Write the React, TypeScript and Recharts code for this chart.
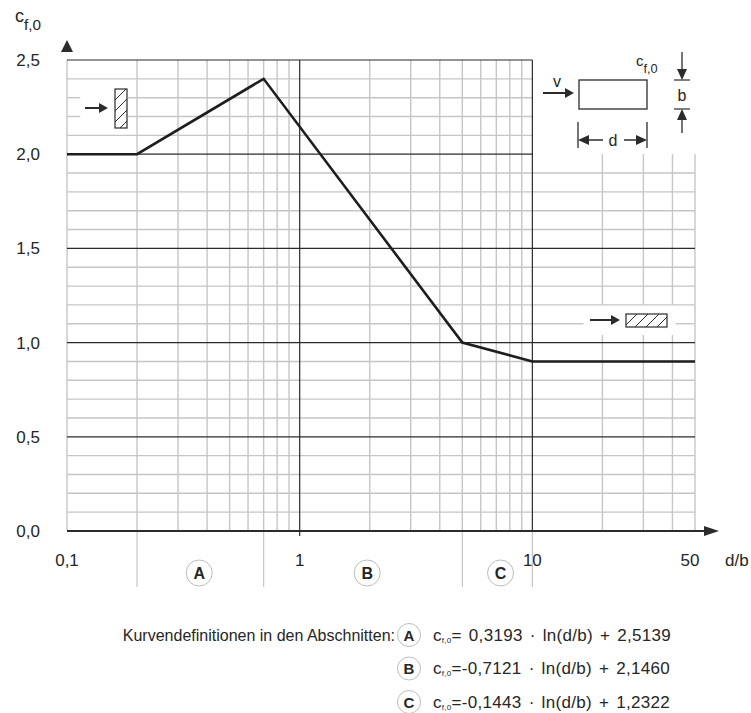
import React from 'react';
import { LineChart, Line, XAxis, YAxis, ReferenceLine } from 'recharts';

// curve breakpoints (d/b, c_f,0)
const curveX = [0.1, 0.2, 0.7, 5, 10, 50];
const curveY = [2.0, 2.0, 2.4, 1.0, 0.9, 0.9];

const xTicks = [0.1, 1, 10, 50];
const xTickLabels = ['0,1', '1', '10', '50'];
const yTicks = [0, 0.5, 1, 1.5, 2, 2.5];
const yTickLabels = ['0,0', '0,5', '1,0', '1,5', '2,0', '2,5'];

const minorX = [0.1, 0.2, 0.3, 0.4, 0.5, 0.6, 0.7, 0.8, 0.9, 2, 3, 4, 5, 6, 7, 8, 9, 20, 30, 40, 50];
const majorX = [1, 10];
const minorY = [0.1, 0.2, 0.3, 0.4, 0.6, 0.7, 0.8, 0.9, 1.1, 1.2, 1.3, 1.4, 1.6, 1.7, 1.8, 1.9, 2.1, 2.2, 2.3, 2.4];
const majorY = [0.5, 1, 1.5, 2, 2.5];

const sectionBounds = [0.2, 0.7, 5, 10];
const sectionNames = ['A', 'B', 'C'];
const sectionCenters = [0.37, 1.95, 7.3];

const formulaCoef = ['= 0,3193', '=-0,7121', '=-0,1443'];
const formulaConst = ['2,5139', '2,1460', '1,2322'];

const data = curveX.map((x, i) => ({ x, y: curveY[i] }));

const W = 751;
const H = 713;
const PLOT = { left: 67, right: 695, top: 60, bottom: 531 };
const X_MIN = 0.1;
const X_MAX = 50;
const Y_MAX = 2.5;

// blank pockets in the grid around the little icons
const LEFT_GAP = [0.114, 0.183];
const RIGHT_GAP_X = [16.6, 41.2];
const RIGHT_GAP_Y = [1.04, 1.2];

const px = (v: number) =>
  PLOT.left + ((Math.log10(v) - Math.log10(X_MIN)) / (Math.log10(X_MAX) - Math.log10(X_MIN))) * (PLOT.right - PLOT.left);
const py = (v: number) => PLOT.bottom - (v / Y_MAX) * (PLOT.bottom - PLOT.top);

const LIGHT = '#c6c6c6';
const DARK = '#2b2b2b';
const TEXT = '#262626';
const FONT = '"Liberation Sans", Arial, sans-serif';

type Seg = { x1: number; x2: number; y1: number; y2: number; light: boolean };

const buildGrid = (): Seg[] => {
  const segs: Seg[] = [];
  minorY.forEach((v) => {
    const right = v > 2 ? 10 : X_MAX;
    if (v === 2.2 || v === 2.3) {
      segs.push({ x1: X_MIN, x2: LEFT_GAP[0], y1: v, y2: v, light: true });
      segs.push({ x1: LEFT_GAP[1], x2: right, y1: v, y2: v, light: true });
    } else if (v === 1.1) {
      segs.push({ x1: X_MIN, x2: RIGHT_GAP_X[0], y1: v, y2: v, light: true });
      segs.push({ x1: RIGHT_GAP_X[1], x2: right, y1: v, y2: v, light: true });
    } else {
      segs.push({ x1: X_MIN, x2: right, y1: v, y2: v, light: true });
    }
  });
  minorX.forEach((v) => {
    const top = v > 10 ? 2 : Y_MAX;
    if (v > RIGHT_GAP_X[0] && v < RIGHT_GAP_X[1]) {
      segs.push({ x1: v, x2: v, y1: 0, y2: RIGHT_GAP_Y[0], light: true });
      segs.push({ x1: v, x2: v, y1: RIGHT_GAP_Y[1], y2: top, light: true });
    } else {
      segs.push({ x1: v, x2: v, y1: 0, y2: top, light: true });
    }
  });
  majorY.forEach((v) => {
    const right = v >= 2 ? 10 : X_MAX;
    segs.push({ x1: X_MIN, x2: right, y1: v, y2: v, light: false });
  });
  majorX.forEach((v) => {
    segs.push({ x1: v, x2: v, y1: 0, y2: Y_MAX, light: false });
  });
  return segs;
};

const XTick = (props: any) => {
  const { x, y, payload } = props;
  const i = xTicks.indexOf(payload.value);
  const shift = payload.value === 50 ? -5 : 0;
  return (
    <text x={x + shift} y={y} dy="0.71em" textAnchor="middle" fontSize={17} fill={TEXT} fontFamily={FONT}>
      {xTickLabels[i]}
    </text>
  );
};

const YTick = (props: any) => {
  const { x, y, payload } = props;
  const i = yTicks.indexOf(payload.value);
  return (
    <text x={x} y={y} dy="0.355em" textAnchor="end" fontSize={17} fill={TEXT} fontFamily={FONT}>
      {yTickLabels[i]}
    </text>
  );
};

const Hatched = ({ x, y, w, h, id }: { x: number; y: number; w: number; h: number; id: string }) => {
  const step = 11;
  const lines = [];
  for (let k = -h; k < w + h; k += step) {
    lines.push(<line key={k} x1={x + k} y1={y + h} x2={x + k + h} y2={y} stroke={DARK} strokeWidth={1} />);
  }
  return (
    <g>
      <clipPath id={id}>
        <rect x={x} y={y} width={w} height={h} />
      </clipPath>
      <rect x={x} y={y} width={w} height={h} fill="#fff" />
      <g clipPath={`url(#${id})`}>{lines}</g>
      <rect x={x} y={y} width={w} height={h} fill="none" stroke={DARK} strokeWidth={1.2} />
    </g>
  );
};

const Arrow = ({ x1, x2, y }: { x1: number; x2: number; y: number }) => (
  <g>
    <line x1={x1} y1={y} x2={x2 - 6} y2={y} stroke={DARK} strokeWidth={2} />
    <polygon points={`${x2 - 9},${y - 5} ${x2},${y} ${x2 - 9},${y + 5}`} fill={DARK} />
  </g>
);

const Cf0 = ({ x, y, size }: { x: number; y: number; size: number }) => (
  <text x={x} y={y} fontSize={size} fill={TEXT} fontFamily={FONT}>
    c
    <tspan dy={size * 0.45} fontSize={size * 0.85}>
      f,0
    </tspan>
  </text>
);

const Overlay = () => {
  const axisY = py(0);
  return (
    <svg width={W} height={H} style={{ position: 'absolute', left: 0, top: 0, pointerEvents: 'none' }}>
      {/* axes with arrows */}
      <line x1={PLOT.left} y1={axisY} x2={708} y2={axisY} stroke={DARK} strokeWidth={2.2} />
      <polygon points={`704,${axisY - 5} 719,${axisY} 704,${axisY + 5}`} fill={DARK} />
      <polygon points={`61,52 67,40 73,52`} fill={DARK} />
      <line x1={px(1)} y1={axisY} x2={px(1)} y2={axisY + 5} stroke={DARK} strokeWidth={1.2} />
      <text x={725} y={566} fontSize={17} fill={TEXT} fontFamily={FONT}>
        d/b
      </text>
      <Cf0 x={15} y={22} size={18} />

      {/* section dividers and labels */}
      {sectionBounds.map((b) => (
        <line key={b} x1={px(b)} y1={axisY + 1} x2={px(b)} y2={587} stroke={LIGHT} strokeWidth={1.2} />
      ))}
      {sectionNames.map((n, i) => (
        <g key={n}>
          <circle cx={px(sectionCenters[i])} cy={573} r={13} fill="#fff" stroke="#bdbdbd" strokeWidth={1} />
          <text x={px(sectionCenters[i])} y={579} textAnchor="middle" fontSize={16} fontWeight="bold" fill={TEXT} fontFamily={FONT}>
            {n}
          </text>
        </g>
      ))}

      {/* icon left: narrow upright plate */}
      <Arrow x1={85} x2={108} y={108} />
      <Hatched x={115} y={89} w={12} h={39} id="hatchL" />

      {/* icon right: wide flat plate */}
      <Arrow x1={590} x2={620} y={320} />
      <Hatched x={626} y={314} w={41} h={13} id="hatchR" />

      {/* inset sketch */}
      <text x={557} y={87} textAnchor="middle" fontSize={16} fill={TEXT} fontFamily={FONT}>
        v
      </text>
      <Arrow x1={543} x2={574} y={93} />
      <rect x={579} y={80} width={68} height={29} fill="#fff" stroke={DARK} strokeWidth={1.3} />
      <Cf0 x={636} y={66} size={15} />
      <line x1={682} y1={52} x2={682} y2={72} stroke={DARK} strokeWidth={1.3} />
      <polygon points={`677,69 682,80 687,69`} fill={DARK} />
      <line x1={674} y1={80} x2={690} y2={80} stroke={DARK} strokeWidth={1.2} />
      <text x={682} y={101} textAnchor="middle" fontSize={16} fill={TEXT} fontFamily={FONT}>
        b
      </text>
      <line x1={674} y1={109} x2={690} y2={109} stroke={DARK} strokeWidth={1.2} />
      <polygon points={`677,120 682,109 687,120`} fill={DARK} />
      <line x1={682} y1={117} x2={682} y2={133} stroke={DARK} strokeWidth={1.3} />
      <line x1={578} y1={122} x2={578} y2={148} stroke={DARK} strokeWidth={1.3} />
      <line x1={647} y1={122} x2={647} y2={148} stroke={DARK} strokeWidth={1.3} />
      <polygon points={`578,140 589,135 589,145`} fill={DARK} />
      <line x1={586} y1={140} x2={603} y2={140} stroke={DARK} strokeWidth={1.5} />
      <text x={613} y={146} textAnchor="middle" fontSize={16} fill={TEXT} fontFamily={FONT}>
        d
      </text>
      <line x1={624} y1={140} x2={640} y2={140} stroke={DARK} strokeWidth={1.5} />
      <polygon points={`647,140 636,135 636,145`} fill={DARK} />

      {/* curve definitions */}
      <text x={395} y={641} textAnchor="end" fontSize={16} fill={TEXT} fontFamily={FONT}>
        Kurvendefinitionen in den Abschnitten:
      </text>
      {sectionNames.map((n, i) => {
        const cy = 635 + i * 33.5;
        return (
          <g key={n}>
            <circle cx={409} cy={cy} r={11.5} fill="#fff" stroke="#bdbdbd" strokeWidth={1} />
            <text x={409} y={cy + 5.5} textAnchor="middle" fontSize={15} fontWeight="bold" fill={TEXT} fontFamily={FONT}>
              {n}
            </text>
            <text x={433} y={cy + 5.5} fontSize={17} fill={TEXT} fontFamily={FONT} letterSpacing={0.3} wordSpacing={2}>
              c<tspan fontSize={8} dy={2}>f,0</tspan>
              <tspan dy={-2}>{formulaCoef[i]} · ln(d/b) + {formulaConst[i]}</tspan>
            </text>
          </g>
        );
      })}
    </svg>
  );
};

export default function App() {
  const grid = buildGrid();
  return (
    <div style={{ position: 'absolute', left: 0, top: 0, width: W, height: H, background: '#fff' }}>
      <LineChart width={W} height={H} data={data} margin={{ top: 60, right: 56, left: 0, bottom: 152 }}>
        <XAxis
          dataKey="x"
          type="number"
          scale="log"
          domain={[X_MIN, X_MAX]}
          allowDataOverflow
          ticks={xTicks}
          interval={0}
          axisLine={false}
          tickLine={false}
          tickSize={0}
          tickMargin={23}
          height={30}
          tick={<XTick />}
        />
        <YAxis
          type="number"
          domain={[0, Y_MAX]}
          ticks={yTicks}
          interval={0}
          axisLine={false}
          tickLine={false}
          tickSize={0}
          tickMargin={27}
          width={67}
          tick={<YTick />}
        />
        {grid.map((s, i) => (
          <ReferenceLine
            key={i}
            segment={[
              { x: s.x1, y: s.y1 },
              { x: s.x2, y: s.y2 },
            ]}
            stroke={s.light ? LIGHT : DARK}
            strokeWidth={s.light ? 1.4 : 1.2}
            ifOverflow="extendDomain"
          />
        ))}
        <Line
          type="linear"
          dataKey="y"
          stroke="#1e1e1e"
          strokeWidth={2.6}
          dot={false}
          isAnimationActive={false}
          zIndex={1000}
        />
      </LineChart>
      <Overlay />
    </div>
  );
}
